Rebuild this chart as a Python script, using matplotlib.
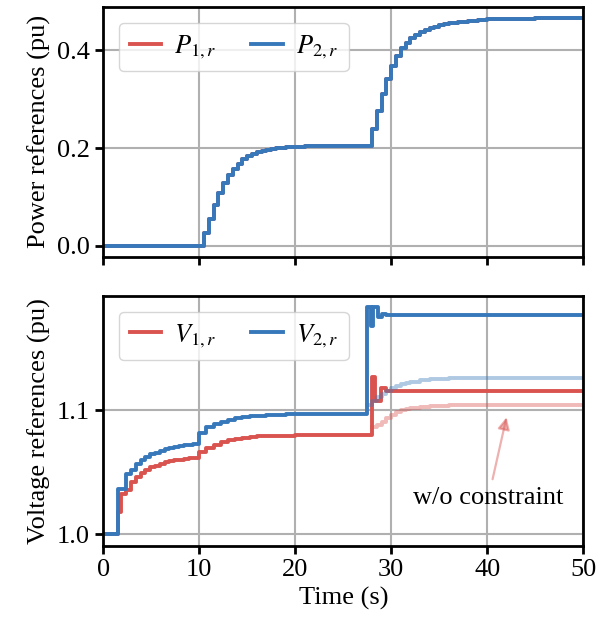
import matplotlib
matplotlib.use('Agg')
import matplotlib.pyplot as plt
import numpy as np

plt.rcParams['font.family'] = ['Liberation Serif', 'DejaVu Serif']
plt.rcParams['mathtext.fontset'] = 'stix'
plt.rcParams['font.size'] = 19

# power references (P1 and P2 are identical), sample times and values
p_t = [0.0, 10.5, 11.0, 11.5, 12.0, 12.5, 13.0, 13.5, 14.0, 14.5, 15.0, 15.5, 16.0, 16.5,
       17.0, 17.5, 18.0, 18.5, 19.0, 20.0, 21.0, 23.0,
       28.0, 28.5, 29.0, 29.5, 30.0, 30.5, 31.0, 31.5, 32.0, 32.5, 33.0, 33.5, 34.0, 34.5,
       35.0, 35.5, 36.0, 37.0, 38.0, 39.0, 40.0, 42.0, 45.0, 50.0]
p_val = [0.0, 0.025, 0.055, 0.084, 0.107, 0.128, 0.144, 0.157, 0.168, 0.177, 0.184, 0.1885,
         0.192, 0.1945, 0.1965, 0.198, 0.1995, 0.201, 0.202, 0.203, 0.204, 0.205,
         0.239, 0.275, 0.311, 0.342, 0.368, 0.3885, 0.405, 0.416, 0.425, 0.431, 0.437, 0.442,
         0.446, 0.449, 0.452, 0.4545, 0.4565, 0.459, 0.4605, 0.462, 0.4635, 0.465, 0.466, 0.466]

# voltage references
v1_t = [0.0, 1.5, 1.9, 2.4, 2.9, 3.4, 3.9, 4.4, 4.9, 5.4, 5.9, 6.4, 6.9, 7.4, 7.9, 8.4, 8.9, 9.4,
        10.0, 10.75, 11.5, 12.25, 13.0, 13.75, 14.5, 15.25, 16.0, 17.0, 18.5, 20.0,
        27.95, 28.3, 28.9, 29.5, 50.0]
v1_val = [1.0, 1.018, 1.0328, 1.0355, 1.0422, 1.0463, 1.0495, 1.052, 1.054, 1.0555, 1.057,
          1.058, 1.059, 1.0598, 1.0604, 1.0609, 1.0613, 1.0616,
          1.0664, 1.0697, 1.0723, 1.0745, 1.076, 1.0772, 1.078, 1.0786, 1.079, 1.0794, 1.0797,
          1.0798,
          1.1268, 1.108, 1.118, 1.1155, 1.1155]

v2_t = [0.0, 1.5, 2.4, 2.9, 3.4, 3.9, 4.4, 4.9, 5.4, 5.9, 6.4, 6.9, 7.4, 7.9, 8.4, 8.9, 9.4,
        10.0, 10.75, 11.5, 12.25, 13.0, 13.75, 14.5, 15.25, 16.0, 17.0, 18.0, 19.0, 20.5, 22.0,
        27.45, 27.85, 28.1, 28.6, 29.0, 29.5, 50.0]
v2_val = [1.0, 1.037, 1.049, 1.052, 1.0565, 1.060, 1.0625, 1.0645, 1.066, 1.0675, 1.0688,
          1.0698, 1.0706, 1.0713, 1.0719, 1.0724, 1.0728,
          1.082, 1.0866, 1.0893, 1.091, 1.0925, 1.0936, 1.0945, 1.0952, 1.0958, 1.0963, 1.0967,
          1.097, 1.0972, 1.0973,
          1.1834, 1.1685, 1.1834, 1.1753, 1.178, 1.1766, 1.1766]

# without constraint (after the event)
v1_free_t = [27.95, 28.5, 29.0, 29.5, 30.0, 30.5, 31.0, 31.5, 32.0, 33.0, 34.0, 35.0, 36.0, 38.0,
             41.0, 50.0]
v1_free_val = [1.0865, 1.088, 1.091, 1.094, 1.0965, 1.0985, 1.100, 1.101, 1.1018, 1.1027,
               1.1033, 1.1038, 1.1041, 1.1044, 1.1045, 1.1045]
v2_free_t = [27.45, 28.0, 28.5, 29.0, 29.5, 30.0, 30.5, 31.0, 31.5, 32.0, 33.0, 34.0, 35.0, 36.0,
             38.0, 41.0, 50.0]
v2_free_val = [1.104, 1.1075, 1.1105, 1.1135, 1.116, 1.118, 1.1195, 1.121, 1.122, 1.123, 1.1242,
               1.125, 1.1255, 1.1258, 1.1261, 1.1262, 1.1262]

red = '#d9534f'
blue = '#3778bb'
lw = 2.8

fig, (ax1, ax2) = plt.subplots(2, 1, figsize=(6.07, 6.28), dpi=100, sharex=True)
fig.subplots_adjust(left=0.170, right=0.961, top=0.989, bottom=0.131, hspace=0.155)

leg_kw = dict(loc='upper left', ncol=2, handlelength=1.2, handletextpad=0.5,
              columnspacing=1.3, borderaxespad=0.6)

ax1.step(p_t, p_val, where='post', color=red, lw=lw, label='$P_{1,r}$')
ax1.step(p_t, p_val, where='post', color=blue, lw=lw, label='$P_{2,r}$')
ax1.set_ylabel('Power references (pu)')
ax1.set_yticks([0.0, 0.2, 0.4])
ax1.legend(**leg_kw)

ax2.step(v1_t, v1_val, where='post', color=red, lw=lw, label='$V_{1,r}$')
ax2.step(v2_t, v2_val, where='post', color=blue, lw=lw, label='$V_{2,r}$')
ax2.step(v1_free_t, v1_free_val, where='post', color=red, lw=lw, alpha=0.4)
ax2.step(v2_free_t, v2_free_val, where='post', color=blue, lw=lw, alpha=0.4)
ax2.set_ylabel('Voltage references (pu)')
ax2.set_xlabel('Time (s)')
ax2.set_yticks([1.0, 1.1])
ax2.set_xlim(0, 50)
ax2.set_xticks([0, 10, 20, 30, 40, 50])
ax2.legend(**leg_kw)
ax2.annotate('w/o constraint', xy=(42.0, 1.0945), xytext=(40.1, 1.029),
             ha='center', va='center',
             arrowprops=dict(arrowstyle='-|>', color=red, alpha=0.45, lw=1.6,
                             mutation_scale=18, shrinkA=4, shrinkB=0))

for ax in (ax1, ax2):
    ax.grid(True, color='#b0b0b0', lw=1.5)
    ax.set_axisbelow(True)
    for s in ax.spines.values():
        s.set_linewidth(2)
    ax.tick_params(direction='out', length=6, width=2)

fig.savefig('out.png', dpi=100)
